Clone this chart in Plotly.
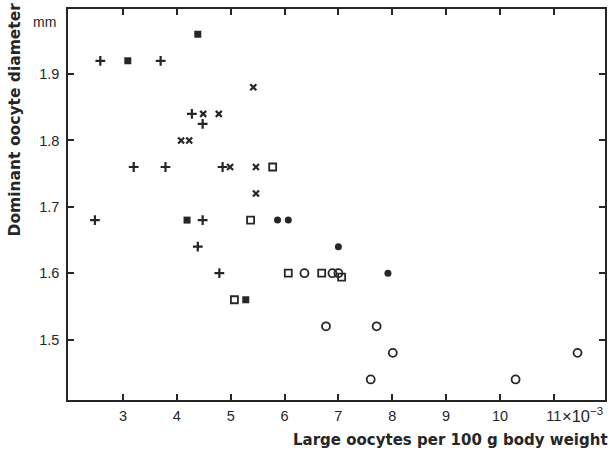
import plotly.graph_objects as go

# Data (x in units of 10^-3 large oocytes per 100 g body weight; y in mm)
plus_x = [2.58, 3.70, 4.28, 4.48, 3.20, 3.79, 4.85, 2.48, 4.48, 4.39, 4.79]
plus_y = [1.92, 1.92, 1.84, 1.825, 1.76, 1.76, 1.76, 1.68, 1.68, 1.64, 1.60]

fsq_x = [3.09, 4.39, 4.19, 5.28]
fsq_y = [1.92, 1.96, 1.68, 1.56]

cross_x = [5.42, 4.49, 4.78, 4.08, 4.23, 4.99, 5.47, 5.47]
cross_y = [1.88, 1.84, 1.84, 1.80, 1.80, 1.76, 1.76, 1.72]

osq_x = [5.78, 5.37, 5.07, 6.07, 6.69, 7.06]
osq_y = [1.76, 1.68, 1.56, 1.60, 1.60, 1.594]

fci_x = [5.87, 6.07, 7.00, 7.92]
fci_y = [1.68, 1.68, 1.64, 1.60]

oci_x = [6.37, 6.89, 7.00, 6.77, 7.71, 8.01, 7.60, 10.29, 11.44]
oci_y = [1.60, 1.60, 1.60, 1.52, 1.52, 1.48, 1.44, 1.44, 1.48]

x_ticks = [3, 4, 5, 6, 7, 8, 9, 10, 11]
x_ticktext = ["3", "4", "5", "6", "7", "8", "9", "10", "11"]
y_ticks = [1.5, 1.6, 1.7, 1.8, 1.9]
y_ticktext = ["1.5", "1.6", "1.7", "1.8", "1.9"]

INK = "#262626"
TICKFONT = "Liberation Sans, Arial, sans-serif"

fig = go.Figure()
fig.add_trace(go.Scatter(x=plus_x, y=plus_y, mode="markers",
                         marker=dict(symbol="cross-thin", size=7, line=dict(width=2.2, color=INK))))
fig.add_trace(go.Scatter(x=fsq_x, y=fsq_y, mode="markers",
                         marker=dict(symbol="square", size=7, color=INK, line=dict(width=0))))
fig.add_trace(go.Scatter(x=cross_x, y=cross_y, mode="markers",
                         marker=dict(symbol="x-thin", size=6, line=dict(width=2.2, color=INK))))
fig.add_trace(go.Scatter(x=osq_x, y=osq_y, mode="markers",
                         marker=dict(symbol="square-open", size=7, color=INK, line=dict(width=1.8))))
fig.add_trace(go.Scatter(x=fci_x, y=fci_y, mode="markers",
                         marker=dict(symbol="circle", size=7, color=INK, line=dict(width=0))))
fig.add_trace(go.Scatter(x=oci_x, y=oci_y, mode="markers",
                         marker=dict(symbol="circle-open", size=8, color=INK, line=dict(width=1.8))))

axis_common = dict(showline=True, linecolor=INK, linewidth=1.5, mirror="ticks",
                   ticks="inside", ticklen=6, tickwidth=1.5, tickcolor=INK,
                   showgrid=False, zeroline=False,
                   tickfont=dict(family=TICKFONT, size=14.5, color=INK))

fig.update_xaxes(range=[1.98, 11.95], tickmode="array", tickvals=x_ticks, ticktext=x_ticktext,
                 ticklabelstandoff=2, **axis_common)
fig.update_yaxes(range=[1.409, 1.998], tickmode="array", tickvals=y_ticks, ticktext=y_ticktext,
                 ticklabelstandoff=4, **axis_common)

fig.update_layout(
    width=614, height=451,
    margin=dict(l=68, r=7, t=7, b=51),
    paper_bgcolor="white", plot_bgcolor="white",
    showlegend=False,
    annotations=[
        dict(text="<b>Large oocytes per 100 g body weight</b>", xref="paper", yref="paper",
             x=1, y=0, xanchor="right", yanchor="middle", xshift=5, yshift=-40,
             showarrow=False, font=dict(family="DejaVu Sans, sans-serif", size=15, color=INK)),
        dict(text="<b>Dominant oocyte diameter</b>", xref="paper", yref="paper",
             x=0, y=0.7176, xanchor="center", yanchor="middle", xshift=-53, textangle=-90,
             showarrow=False, font=dict(family="DejaVu Sans, sans-serif", size=15.5, color=INK)),
        dict(text="mm", xref="paper", yref="paper", x=0, y=0.967, xanchor="center",
             yanchor="middle", xshift=-24, showarrow=False,
             font=dict(family=TICKFONT, size=14, color=INK)),
        dict(text="×10<sup>−3</sup>", xref="x", yref="paper", x=11, y=0, xanchor="left",
             yanchor="middle", xshift=6, yshift=-15, showarrow=False,
             font=dict(family=TICKFONT, size=16.5, color=INK)),
    ],
)

fig.write_html("out.html", config={"displayModeBar": False},
               post_script="document.body.style.margin='0';")
